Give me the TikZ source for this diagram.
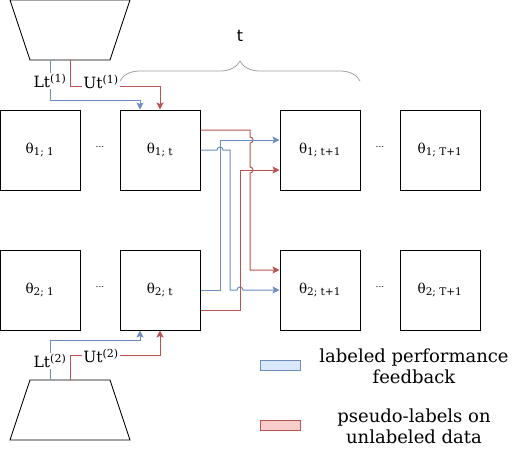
\documentclass[tikz,border=0pt]{standalone}
\usepackage{fontspec}
\setmainfont{DejaVu Serif}
\newfontfamily\tfont{DejaVu Sans}
\usetikzlibrary{arrows.meta,decorations.pathreplacing}
\definecolor{lblue}{HTML}{6C8EBF}
\definecolor{lbluefill}{HTML}{DAE8FC}
\definecolor{ured}{HTML}{B85450}
\definecolor{uredfill}{HTML}{F8CECC}
\definecolor{bracegray}{HTML}{A0A0A0}
\newcommand{\supidx}[1]{\textsuperscript{\fontsize{11}{11}\selectfont #1}}
\newcommand{\subidx}[1]{\textsubscript{\fontsize{10.5}{11}\selectfont #1}}
\begin{document}
\begin{tikzpicture}[x=1pt,y=-1pt,
    param/.style={draw,line width=1pt,minimum size=80pt,inner sep=0pt,font=\fontsize{13.5}{15}\selectfont},
    enc/.style={draw,line width=0.8pt},
    lfb/.style={draw=lblue,line width=1pt,-{Stealth[length=7pt,width=7pt,inset=1.5pt]}},
    ulb/.style={draw=ured,line width=1pt,-{Stealth[length=7pt,width=7pt,inset=1.5pt]}},
    lab/.style={fill=white,inner sep=1pt,font=\fontsize{15.5}{17}\selectfont},
    dotsnode/.style={font=\fontsize{9}{10}\selectfont},
    legtext/.style={align=center,font=\fontsize{18}{21}\selectfont}]
          \useasboundingbox (0,0) rectangle (516,448);

          % encoders
          \draw[enc] (10,0) -- (130,0) -- (110,60) -- (30,60) -- cycle;
          \coordinate (enc1L) at (50,60);
          \coordinate (enc1U) at (70,60);
          \draw[enc] (30,380) -- (110,380) -- (130,440) -- (10,440) -- cycle;
          \coordinate (enc2L) at (50,380);
          \coordinate (enc2U) at (70,380);

          % parameters
          \node[param] (p11) at (40,150) {θ\subidx{1; 1}};
          \node[dotsnode] (dots1) at (100,147) {...};
          \node[param] (p1t) at (160,150) {θ\subidx{1; t}};
          \node[param] (p1n) at (320,150) {θ\subidx{1; t+1}};
          \node[dotsnode] (dots2) at (380,147) {...};
          \node[param] (p1T) at (440,150) {θ\subidx{1; T+1}};
          \node[param] (p21) at (40,290) {θ\subidx{2; 1}};
          \node[dotsnode] (dots3) at (100,287) {...};
          \node[param] (p2t) at (160,290) {θ\subidx{2; t}};
          \node[param] (p2n) at (320,290) {θ\subidx{2; t+1}};
          \node[dotsnode] (dots4) at (380,287) {...};
          \node[param] (p2T) at (440,290) {θ\subidx{2; T+1}};

          % brace
          \draw[bracegray,line width=0.8pt,decorate,decoration={brace,amplitude=20pt}] (120,81) -- (360,81);
          \node[font=\tfont\fontsize{16}{18}\selectfont] (tlab) at (240,36) {t};

          % feedback from the encoders
          \draw[lfb] (enc1L) -- ++(0,40) -| ([xshift=-20pt]p1t.north);
          \draw[ulb] (enc1U) -- ++(0,26) -| (p1t.north);
          \draw[lfb] (enc2L) -- ++(0,-40) -| ([xshift=-20pt]p2t.south);
          \draw[ulb] (enc2U) -- ++(0,-25) -| (p2t.south);
          \node[lab] (Lt1) at (50,81) {Lt\supidx{(1)}};
          \node[lab] (Ut1) at (101,82) {Ut\supidx{(1)}};
          \node[lab] (Lt2) at (50,361) {Lt\supidx{(2)}};
          \node[lab] (Ut2) at (101,356) {Ut\supidx{(2)}};

          % exchange between the two rows
          \draw[ulb] ([yshift=20pt]p1t.east) -- (250,130) -- (250,137)
            arc[start angle=90,end angle=-90,radius=3pt] -- (250,167)
            arc[start angle=90,end angle=-90,radius=3pt] -- (250,270) -- ([yshift=20pt]p2n.west);
          \draw[lfb] (p1t.east) -- (217,150) arc[start angle=180,end angle=0,radius=3pt]
            -- (230,150) -- (230,290) -- (237,290) arc[start angle=180,end angle=0,radius=3pt]
            -- (p2n.west);
          \draw[lfb] (p2t.east) -- (220,290) -- (220,140) -- ([yshift=10pt]p1n.west);
          \draw[ulb] ([yshift=-20pt]p2t.east) -- (240,310) -- (240,170) -- ([yshift=-20pt]p1n.west);

          % legend
          \node[draw=lblue,fill=lbluefill,line width=0.8pt,minimum width=40pt,minimum height=10pt,inner sep=0pt] (leg1) at (280,365) {};
          \node[legtext] (legtxt1) at (414,366) {labeled performance\\feedback};
          \node[draw=ured,fill=uredfill,line width=0.8pt,minimum width=40pt,minimum height=10pt,inner sep=0pt] (leg2) at (280,425) {};
          \node[legtext] (legtxt2) at (414,426) {pseudo-labels on\\unlabeled data};
        \end{tikzpicture}
\end{document}
